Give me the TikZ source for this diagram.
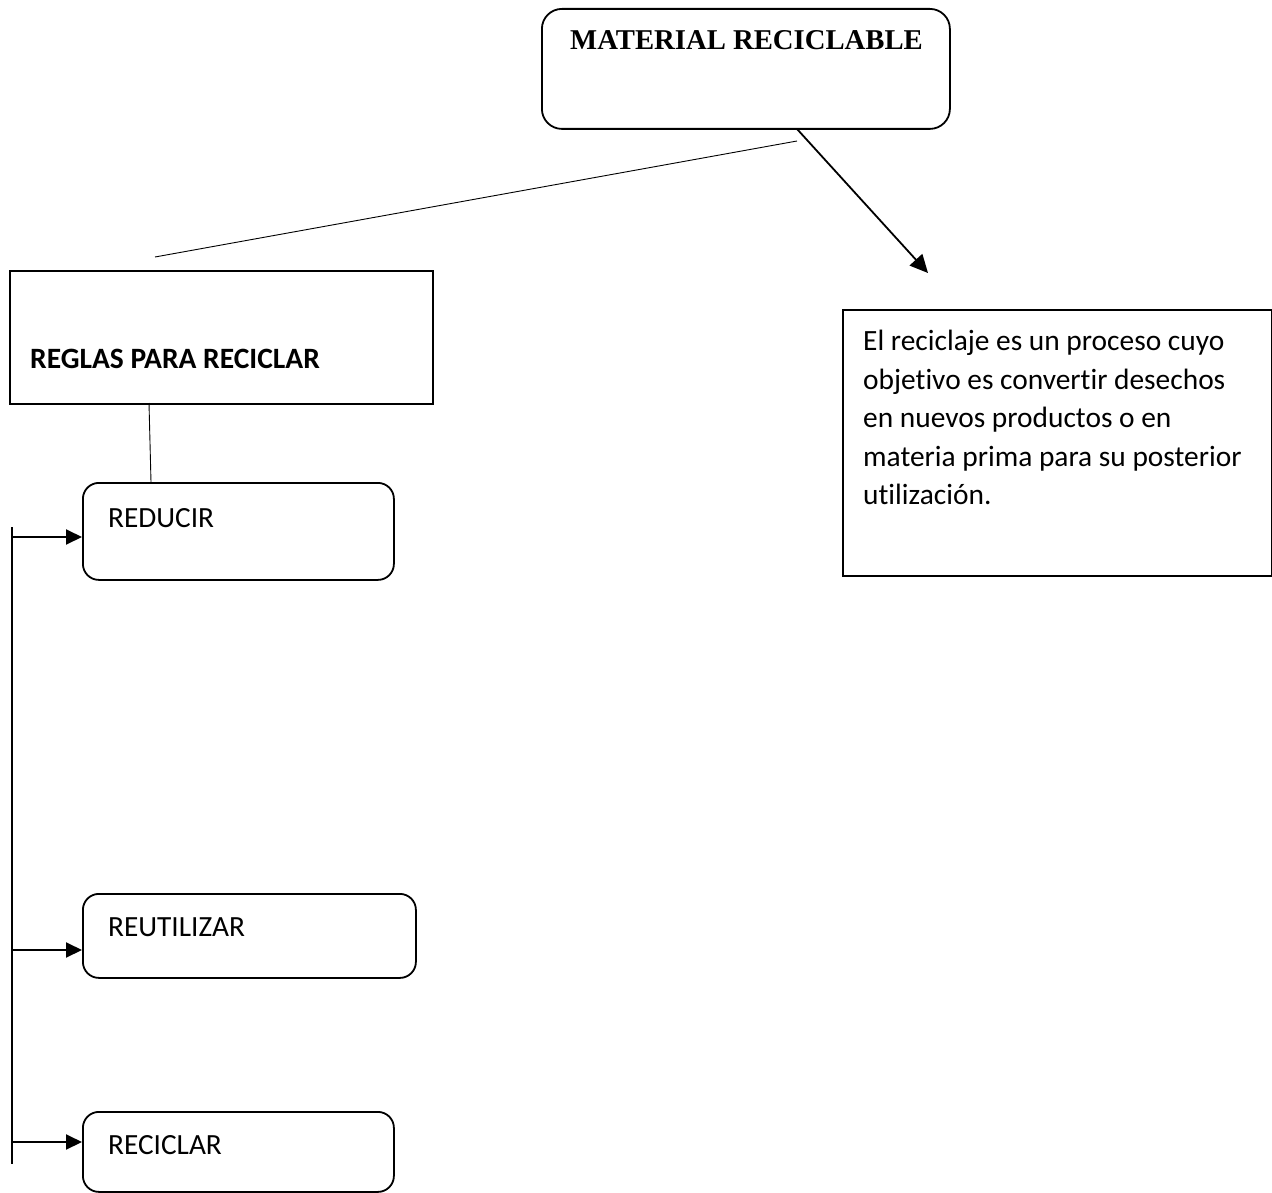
\documentclass[tikz,border=0pt]{standalone}
\usepackage{fontspec}
\setmainfont{Carlito}[Ligatures={NoCommon}]
\newfontfamily\serifbf{Liberation Serif}
\usetikzlibrary{arrows.meta}
\begin{document}
\begin{tikzpicture}[x=1pt,y=-1pt,
  boxline/.style={draw=black, line width=1.8pt, inner sep=0pt},
  rbox/.style={boxline, rounded corners=16pt},
  sqbox/.style={boxline},
  lbl/.style={inner sep=0pt, anchor=base west},
  thin/.style={line width=0.9pt},
  arr/.style={line width=2pt, -{Triangle[length=16pt,width=15pt]}},
  spine/.style={line width=2pt}]
\useasboundingbox (0,0) rectangle (1272,1193);
% boxes
\node[rbox, rounded corners=20pt, minimum width=408pt, minimum height=120pt, anchor=north west] (mat) at (541,8) {};
\node[sqbox, minimum width=423pt, minimum height=133pt, anchor=north west] (reglas) at (9,270) {};
\node[rbox, minimum width=311pt, minimum height=97pt, anchor=north west] (reducir) at (82,482) {};
\node[rbox, minimum width=333pt, minimum height=84pt, anchor=north west] (reutil) at (82,893) {};
\node[rbox, minimum width=311pt, minimum height=80pt, anchor=north west] (recic) at (82,1111) {};
\node[sqbox, minimum width=429pt, minimum height=266pt, anchor=north west] (desc) at (842,309) {};
% texts
\node[lbl, font=\fontsize{28.7}{32}\selectfont\serifbf\bfseries] (tmat) at (570,50) {MATERIAL RECICLABLE};
\node[lbl, font=\fontsize{29.5}{34}\selectfont\bfseries] (treglas) at (30,368) {REGLAS PARA RECICLAR};
\node[lbl, font=\fontsize{29.3}{34}\selectfont] (treducir) at (108,527) {REDUCIR};
\node[lbl, font=\fontsize{29.3}{34}\selectfont] (treutil) at (108,936) {REUTILIZAR};
\node[lbl, font=\fontsize{29.3}{34}\selectfont] (trecic) at (108,1154) {RECICLAR};
\node[inner sep=0pt, anchor=north west, align=left, font=\fontsize{29.4}{38.5}\selectfont] (tdesc) at (863,330)
 {El reciclaje es un proceso cuyo\\objetivo es convertir desechos\\en nuevos productos o en\\materia prima para su posterior\\utilización.};
% connectors
\coordinate (l1) at (797,141);
\coordinate (l2) at (155,257);
\draw[thin] (l1) -- (l2);
\coordinate (a0) at (797,129);
\coordinate (a1) at (928,273);
\draw[line width=1.8pt, -{Triangle[length=18pt,width=17pt]}] (a0) -- (a1);
\coordinate (r0) at (149,403);
\coordinate (r1) at (151,482);
\draw[thin] (r0) -- (r1);
% spine
\coordinate (s0) at (12,527);
\coordinate (s1) at (12,1164);
\draw[spine] (s0) -- (s1);
\coordinate (b1) at (12,537);
\coordinate (b2) at (12,950);
\coordinate (b3) at (12,1142);
\draw[arr] (b1) -- (reducir.west |- b1);
\draw[arr] (b2) -- (reutil.west |- b2);
\draw[arr] (b3) -- (recic.west |- b3);
\end{tikzpicture}
\end{document}
